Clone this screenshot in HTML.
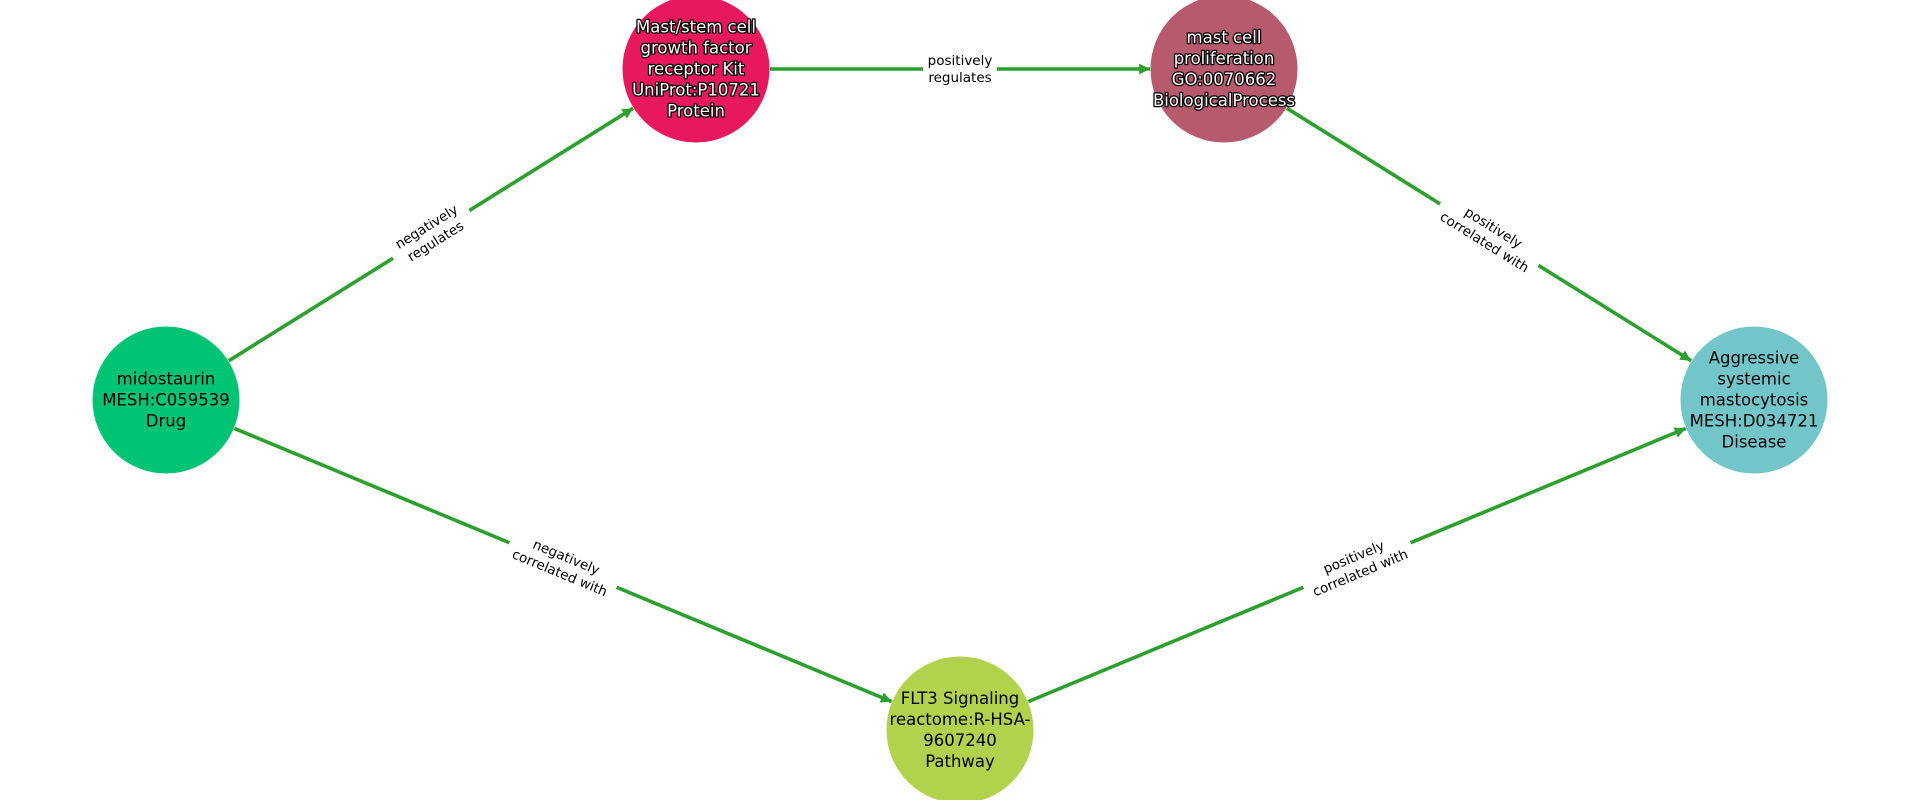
<!DOCTYPE html>
<html><head><meta charset="utf-8"><style>
html,body{margin:0;padding:0;background:#fff;}
svg{display:block;}
text{font-family:"DejaVu Sans","Liberation Sans",sans-serif;}
.n{font-size:16.5px;fill:#000;text-anchor:middle;dominant-baseline:central;}
.w{fill:#fff;stroke:#000;stroke-width:2.6px;paint-order:stroke;stroke-linejoin:round;}
.e{font-size:13.5px;fill:#000;text-anchor:middle;dominant-baseline:central;}
line{stroke:#2ca02c;stroke-width:3.6;}
</style></head><body>
<svg width="1920" height="800" viewBox="0 0 1920 800" xmlns="http://www.w3.org/2000/svg">
<defs>
<marker id="a" viewBox="0 0 10 10" refX="10" refY="5" markerWidth="3" markerHeight="3" orient="auto" markerUnits="strokeWidth">
<path d="M0,0 L10,5 L0,10 z" fill="#2ca02c"/>
</marker>
</defs>
<line x1="228.8" y1="360.8" x2="633.2" y2="108.2" marker-end="url(#a)"/>
<line x1="770" y1="69" x2="1150" y2="69" marker-end="url(#a)"/>
<line x1="1286.8" y1="108.2" x2="1691.2" y2="360.8" marker-end="url(#a)"/>
<line x1="234.3" y1="428.4" x2="891.7" y2="701.6" marker-end="url(#a)"/>
<line x1="1028.3" y1="701.6" x2="1685.7" y2="428.4" marker-end="url(#a)"/>

<g transform="translate(431,234) rotate(-31.9)"><rect x="-45" y="-19" width="90" height="38" fill="#fff"/><text class="e" y="-8">negatively</text><text class="e" y="9">regulates</text></g>
<g transform="translate(960,69)"><rect x="-37" y="-19" width="74" height="38" fill="#fff"/><text class="e" y="-8">positively</text><text class="e" y="9">regulates</text></g>
<g transform="translate(1489,235) rotate(31.9)"><rect x="-58" y="-19" width="116" height="38" fill="#fff"/><text class="e" y="-8">positively</text><text class="e" y="9">correlated with</text></g>
<g transform="translate(563,565) rotate(22.6)"><rect x="-58" y="-19" width="116" height="38" fill="#fff"/><text class="e" y="-8">negatively</text><text class="e" y="9">correlated with</text></g>
<g transform="translate(1357,565) rotate(-22.6)"><rect x="-58" y="-19" width="116" height="38" fill="#fff"/><text class="e" y="-8">positively</text><text class="e" y="9">correlated with</text></g>

<circle cx="166" cy="400" r="73.5" fill="#00c473"/>
<circle cx="696" cy="69" r="73.5" fill="#e8185f"/>
<circle cx="1224" cy="69" r="73.5" fill="#b85a6e"/>
<circle cx="1754" cy="400" r="73.5" fill="#72c6c9"/>
<circle cx="960" cy="730" r="73.5" fill="#b0d24c"/>

<text class="n" x="166" y="379">midostaurin</text>
<text class="n" x="166" y="400">MESH:C059539</text>
<text class="n" x="166" y="421">Drug</text>

<text class="n w" x="696" y="27">Mast/stem cell</text>
<text class="n w" x="696" y="48">growth factor</text>
<text class="n w" x="696" y="69">receptor Kit</text>
<text class="n w" x="696" y="90">UniProt:P10721</text>
<text class="n w" x="696" y="111">Protein</text>

<text class="n w" x="1224" y="37.5">mast cell</text>
<text class="n w" x="1224" y="58.5">proliferation</text>
<text class="n w" x="1224" y="79.5">GO:0070662</text>
<text class="n w" x="1224" y="100.5">BiologicalProcess</text>

<text class="n" x="1754" y="358">Aggressive</text>
<text class="n" x="1754" y="379">systemic</text>
<text class="n" x="1754" y="400">mastocytosis</text>
<text class="n" x="1754" y="421">MESH:D034721</text>
<text class="n" x="1754" y="442">Disease</text>

<text class="n" x="960" y="698.5">FLT3 Signaling</text>
<text class="n" x="960" y="719.5">reactome:R-HSA-</text>
<text class="n" x="960" y="740.5">9607240</text>
<text class="n" x="960" y="761.5">Pathway</text>
</svg>
</body></html>
